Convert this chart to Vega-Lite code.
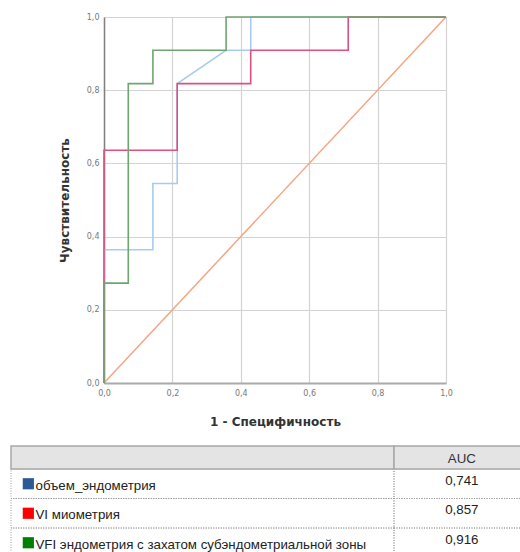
{
  "$schema": "https://vega.github.io/schema/vega-lite/v6.json",
  "padding": {"left": 10, "top": 13, "right": 0, "bottom": 0},
  "background": "white",
  "config": {"view": {"stroke": null}, "font": "DejaVu Sans"},
  "spacing": 18,
  "resolve": {"scale": {"color": "independent"}},
  "vconcat": [
    {
      "width": 342,
      "height": 366,
      "data": {
        "values": [
          {"curve": "ref", "i": 0, "fpr": 0, "tpr": 0},
          {"curve": "ref", "i": 1, "fpr": 1, "tpr": 1},
          {"curve": "obj", "i": 0, "fpr": 0, "tpr": 0},
          {"curve": "obj", "i": 1, "fpr": 0, "tpr": 0.364},
          {"curve": "obj", "i": 2, "fpr": 0.143, "tpr": 0.364},
          {"curve": "obj", "i": 3, "fpr": 0.143, "tpr": 0.545},
          {"curve": "obj", "i": 4, "fpr": 0.214, "tpr": 0.545},
          {"curve": "obj", "i": 5, "fpr": 0.214, "tpr": 0.818},
          {"curve": "obj", "i": 6, "fpr": 0.357, "tpr": 0.909},
          {"curve": "obj", "i": 7, "fpr": 0.429, "tpr": 0.909},
          {"curve": "obj", "i": 8, "fpr": 0.429, "tpr": 1},
          {"curve": "obj", "i": 9, "fpr": 1, "tpr": 1},
          {"curve": "vi", "i": 0, "fpr": 0, "tpr": 0},
          {"curve": "vi", "i": 1, "fpr": 0, "tpr": 0.636},
          {"curve": "vi", "i": 2, "fpr": 0.214, "tpr": 0.636},
          {"curve": "vi", "i": 3, "fpr": 0.214, "tpr": 0.818},
          {"curve": "vi", "i": 4, "fpr": 0.429, "tpr": 0.818},
          {"curve": "vi", "i": 5, "fpr": 0.429, "tpr": 0.909},
          {"curve": "vi", "i": 6, "fpr": 0.714, "tpr": 0.909},
          {"curve": "vi", "i": 7, "fpr": 0.714, "tpr": 1},
          {"curve": "vi", "i": 8, "fpr": 1, "tpr": 1},
          {"curve": "vfi", "i": 0, "fpr": 0, "tpr": 0},
          {"curve": "vfi", "i": 1, "fpr": 0, "tpr": 0.273},
          {"curve": "vfi", "i": 2, "fpr": 0.071, "tpr": 0.273},
          {"curve": "vfi", "i": 3, "fpr": 0.071, "tpr": 0.818},
          {"curve": "vfi", "i": 4, "fpr": 0.143, "tpr": 0.818},
          {"curve": "vfi", "i": 5, "fpr": 0.143, "tpr": 0.909},
          {"curve": "vfi", "i": 6, "fpr": 0.357, "tpr": 0.909},
          {"curve": "vfi", "i": 7, "fpr": 0.357, "tpr": 1},
          {"curve": "vfi", "i": 8, "fpr": 1, "tpr": 1}
        ]
      },
      "encoding": {
        "x": {
          "field": "fpr",
          "type": "quantitative",
          "scale": {"domain": [0, 1], "nice": false},
          "axis": {
            "title": "1 - Специфичность",
            "values": [0, 0.2, 0.4, 0.6, 0.8, 1],
            "labelExpr": "replace(format(datum.value, '.1f'), '.', ',')",
            "labelFlush": false,
            "labelOverlap": false,
            "grid": true,
            "gridColor": "#d3d3d3",
            "gridWidth": 1.2,
            "ticks": false,
            "domainColor": "#aaaaaa",
            "domainWidth": 2,
            "labelFont": "DejaVu Sans",
            "labelFontSize": 8,
            "labelColor": "#777777",
            "labelPadding": 6,
            "titleFont": "DejaVu Sans",
            "titleFontSize": 12,
            "titleFontWeight": "bold",
            "titleColor": "#333333",
            "titlePadding": 19
          }
        },
        "y": {
          "field": "tpr",
          "type": "quantitative",
          "scale": {"domain": [0, 1], "nice": false},
          "axis": {
            "title": "Чувствительность",
            "values": [0, 0.2, 0.4, 0.6, 0.8, 1],
            "labelExpr": "replace(format(datum.value, '.1f'), '.', ',')",
            "labelFlush": false,
            "labelOverlap": false,
            "grid": true,
            "gridColor": "#d3d3d3",
            "gridWidth": 1.2,
            "ticks": false,
            "domainColor": "#808080",
            "domainWidth": 1.5,
            "labelFont": "DejaVu Sans",
            "labelFontSize": 8,
            "labelColor": "#777777",
            "labelPadding": 5,
            "titleFont": "DejaVu Sans",
            "titleFontSize": 12,
            "titleFontWeight": "bold",
            "titleColor": "#333333",
            "titlePadding": 15
          }
        },
        "color": {
          "field": "curve",
          "type": "nominal",
          "scale": {"domain": ["ref", "obj", "vi", "vfi"], "range": ["#f5a582", "#a8cbf0", "#e0507f", "#6fa56f"]},
          "legend": null
        },
        "order": {"field": "i", "type": "quantitative"}
      },
      "layer": [
        {"transform": [{"filter": "datum.curve === 'ref'"}], "mark": {"type": "line", "strokeWidth": 1.5}},
        {"transform": [{"filter": "datum.curve === 'obj'"}], "mark": {"type": "line", "strokeWidth": 1.6}},
        {"transform": [{"filter": "datum.curve === 'vi'"}], "mark": {"type": "line", "strokeWidth": 1.6}},
        {"transform": [{"filter": "datum.curve === 'vfi'"}], "mark": {"type": "line", "strokeWidth": 1.6}}
      ]
    },
    {
      "width": 342,
      "height": 112,
      "data": {
        "values": [
          {"row": "h", "name": "", "auc": "AUC", "s": "none"},
          {"row": "r1", "name": "\u00a0объем_эндометрия", "auc": "0,741", "s": "obj"},
          {"row": "r2", "name": "VI миометрия", "auc": "0,857", "s": "vi"},
          {"row": "r3", "name": "VFI эндометрия с захатом субэндометриальной зоны", "auc": "0,916", "s": "vfi"}
        ]
      },
      "resolve": {"scale": {"y": "independent"}},
      "layer": [
        {
          "transform": [{"filter": "datum.row !== 'h'"}],
          "mark": {"type": "rect", "filled": false, "stroke": "#9c9c9c", "strokeDash": [1, 1.5], "strokeWidth": 1},
          "encoding": {
            "x": {"datum": 0, "type": "quantitative", "scale": {"domain": [0, 1], "range": [-93, 417]}, "axis": null},
            "x2": {"datum": 0.751},
            "y": {"field": "row", "type": "nominal", "scale": {"domain": ["r1", "r2", "r3"], "range": [23, 111.5], "paddingInner": 0, "paddingOuter": 0}, "axis": null}
          }
        },
        {
          "transform": [{"filter": "datum.row !== 'h'"}],
          "mark": {"type": "rect", "filled": false, "stroke": "#9c9c9c", "strokeDash": [1, 1.5], "strokeWidth": 1},
          "encoding": {
            "x": {"datum": 0.751, "type": "quantitative"},
            "x2": {"datum": 1},
            "y": {"field": "row", "type": "nominal", "scale": {"domain": ["r1", "r2", "r3"], "range": [23, 111.5], "paddingInner": 0, "paddingOuter": 0}, "axis": null}
          }
        },
        {
          "transform": [{"filter": "datum.row === 'h'"}],
          "mark": {"type": "rect", "fill": "#e4e4e4", "stroke": "#a8a8a8", "strokeWidth": 1.5},
          "encoding": {
            "x": {"datum": 0, "type": "quantitative"},
            "x2": {"datum": 0.751},
            "y": {"field": "row", "type": "nominal", "scale": {"domain": ["h"], "range": [0, 23], "paddingInner": 0, "paddingOuter": 0}, "axis": null}
          }
        },
        {
          "transform": [{"filter": "datum.row === 'h'"}],
          "mark": {"type": "rect", "fill": "#e4e4e4", "stroke": "#a8a8a8", "strokeWidth": 1.5},
          "encoding": {
            "x": {"datum": 0.751, "type": "quantitative"},
            "x2": {"datum": 1},
            "y": {"field": "row", "type": "nominal", "scale": {"domain": ["h"], "range": [0, 23], "paddingInner": 0, "paddingOuter": 0}, "axis": null}
          }
        },
        {
          "transform": [{"filter": "datum.row === 'h'"}],
          "mark": {"type": "text", "font": "Liberation Sans", "fontSize": 13.3, "color": "#333333", "align": "center", "dy": 1},
          "encoding": {
            "x": {"datum": 0.884, "type": "quantitative"},
            "y": {"field": "row", "type": "nominal", "scale": {"domain": ["h"], "range": [0, 23], "paddingInner": 0, "paddingOuter": 0}, "axis": null},
            "text": {"field": "auc"}
          }
        },
        {
          "transform": [{"filter": "datum.row !== 'h'"}],
          "mark": {"type": "point", "shape": "square", "filled": true, "size": 125, "opacity": 1},
          "encoding": {
            "x": {"datum": 0.034, "type": "quantitative"},
            "y": {"field": "row", "type": "nominal", "scale": {"domain": ["r1", "r2", "r3"], "range": [23, 111.5], "paddingInner": 0, "paddingOuter": 0}, "axis": null},
            "color": {"field": "s", "type": "nominal", "scale": {"domain": ["obj", "vi", "vfi"], "range": ["#2e5a93", "#ff0000", "#008000"]}, "legend": null}
          }
        },
        {
          "transform": [{"filter": "datum.row !== 'h'"}],
          "mark": {"type": "text", "font": "Liberation Sans", "fontSize": 13.3, "color": "#222222", "align": "left", "dy": 2},
          "encoding": {
            "x": {"datum": 0.048, "type": "quantitative"},
            "y": {"field": "row", "type": "nominal", "scale": {"domain": ["r1", "r2", "r3"], "range": [23, 111.5], "paddingInner": 0, "paddingOuter": 0}, "axis": null},
            "text": {"field": "name"}
          }
        },
        {
          "transform": [{"filter": "datum.row !== 'h'"}],
          "mark": {"type": "text", "font": "Liberation Sans", "fontSize": 13.3, "color": "#222222", "align": "center", "dy": -3},
          "encoding": {
            "x": {"datum": 0.884, "type": "quantitative"},
            "y": {"field": "row", "type": "nominal", "scale": {"domain": ["r1", "r2", "r3"], "range": [23, 111.5], "paddingInner": 0, "paddingOuter": 0}, "axis": null},
            "text": {"field": "auc"}
          }
        }
      ]
    }
  ]
}
